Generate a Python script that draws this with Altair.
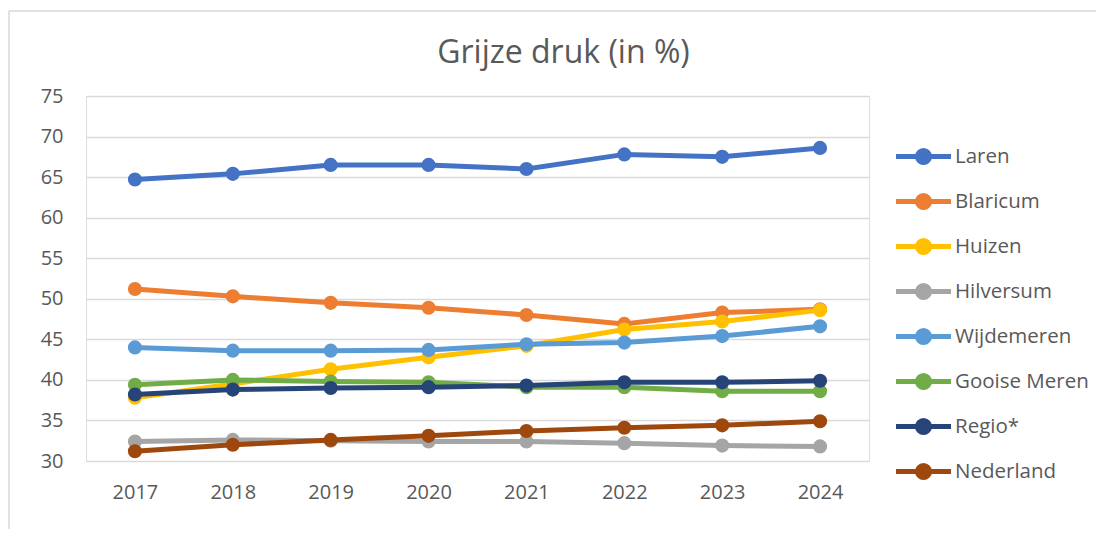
import altair as alt
import pandas as pd

years = ["2017", "2018", "2019", "2020", "2021", "2022", "2023", "2024"]
series_names = ["Laren", "Blaricum", "Huizen", "Hilversum", "Wijdemeren",
                "Gooise Meren", "Regio*", "Nederland"]
colors = ["#4472C4", "#ED7D31", "#FFC000", "#A5A5A5", "#5B9BD5",
          "#70AD47", "#264478", "#9E480E"]

laren = [64.7, 65.4, 66.5, 66.5, 66.0, 67.8, 67.5, 68.6]
blaricum = [51.2, 50.3, 49.5, 48.9, 48.0, 46.9, 48.3, 48.7]
huizen = [37.8, 39.5, 41.3, 42.8, 44.2, 46.2, 47.2, 48.6]
hilversum = [32.4, 32.6, 32.5, 32.4, 32.4, 32.2, 31.9, 31.8]
wijdemeren = [44.0, 43.6, 43.6, 43.7, 44.4, 44.6, 45.4, 46.6]
gooise_meren = [39.4, 40.0, 39.8, 39.7, 39.1, 39.1, 38.6, 38.6]
regio = [38.2, 38.8, 39.0, 39.1, 39.3, 39.7, 39.7, 39.9]
nederland = [31.2, 32.0, 32.6, 33.1, 33.7, 34.1, 34.4, 34.9]

values = [laren, blaricum, huizen, hilversum, wijdemeren, gooise_meren, regio, nederland]

rows = []
for name, vals in zip(series_names, values):
    for y, v in zip(years, vals):
        rows.append({"year": y, "series": name, "value": v})
df = pd.DataFrame(rows)

FONT = "Open Sans"
TXT = "#595959"
GRID = "#D9D9D9"

legend_symbol = "M-2.5,0H2.5M0.55,0A0.55,0.55,0,1,1,-0.55,0A0.55,0.55,0,1,1,0.55,0Z"

color_enc = alt.Color(
    "series:N",
    sort=series_names,
    scale=alt.Scale(domain=series_names, range=colors),
    legend=alt.Legend(
        title=None,
        orient="none",
        legendX=824,
        legendY=47,
        padding=0,
        symbolType=legend_symbol,
        symbolSize=484,
        symbolStrokeWidth=5,
        symbolOpacity=1,
        labelFont=FONT,
        labelFontSize=20.5,
        labelColor=TXT,
        labelOffset=18,
        rowPadding=12,
    ),
)

x_enc = alt.X(
    "year:O",
    sort=years,
    scale=alt.Scale(type="point", padding=0.5),
    axis=alt.Axis(title=None, labelAngle=0, ticks=False, domain=False, grid=False,
                  labelFont=FONT, labelFontSize=20, labelColor=TXT, labelPadding=21),
)
y_enc = alt.Y(
    "value:Q",
    scale=alt.Scale(domain=[30, 75], nice=False, zero=False),
    axis=alt.Axis(title=None, values=[30, 35, 40, 45, 50, 55, 60, 65, 70, 75],
                  ticks=False, domain=False, grid=True, gridColor=GRID, gridWidth=1.3,
                  labelFont=FONT, labelFontSize=20, labelColor=TXT, labelPadding=23),
)

layers = []
for name in series_names:
    layers.append(
        alt.Chart(df)
        .transform_filter(alt.datum.series == name)
        .mark_line(strokeWidth=5,
                   point=alt.OverlayMarkDef(filled=True, size=200, opacity=1))
        .encode(x=x_enc, y=y_enc, color=color_enc)
    )

frame_data = alt.Data(values=[{"k": 1}])
frame_left = alt.Chart(frame_data).mark_rule(color=GRID, strokeWidth=1.5).encode(
    x=alt.value(-77), y=alt.value(-85), y2=alt.value(433))
frame_top = alt.Chart(frame_data).mark_rule(color=GRID, strokeWidth=1.5).encode(
    x=alt.value(-77), x2=alt.value(1010), y=alt.value(-85))

chart = alt.layer(frame_left, frame_top, *layers).properties(
    width=783,
    height=365,
    padding={"left": 0, "top": 2, "right": 0, "bottom": 0},
    title=alt.TitleParams(
        text="Grijze druk (in %)",
        font=FONT,
        fontSize=32,
        fontWeight="normal",
        color=TXT,
        anchor="middle",
        frame="group",
        dx=86,
        dy=84,
        offset=24,
    ),
).configure_view(stroke=None).configure(background="white")

chart.save("out.html", embed_options={"renderer": "svg", "actions": False})
